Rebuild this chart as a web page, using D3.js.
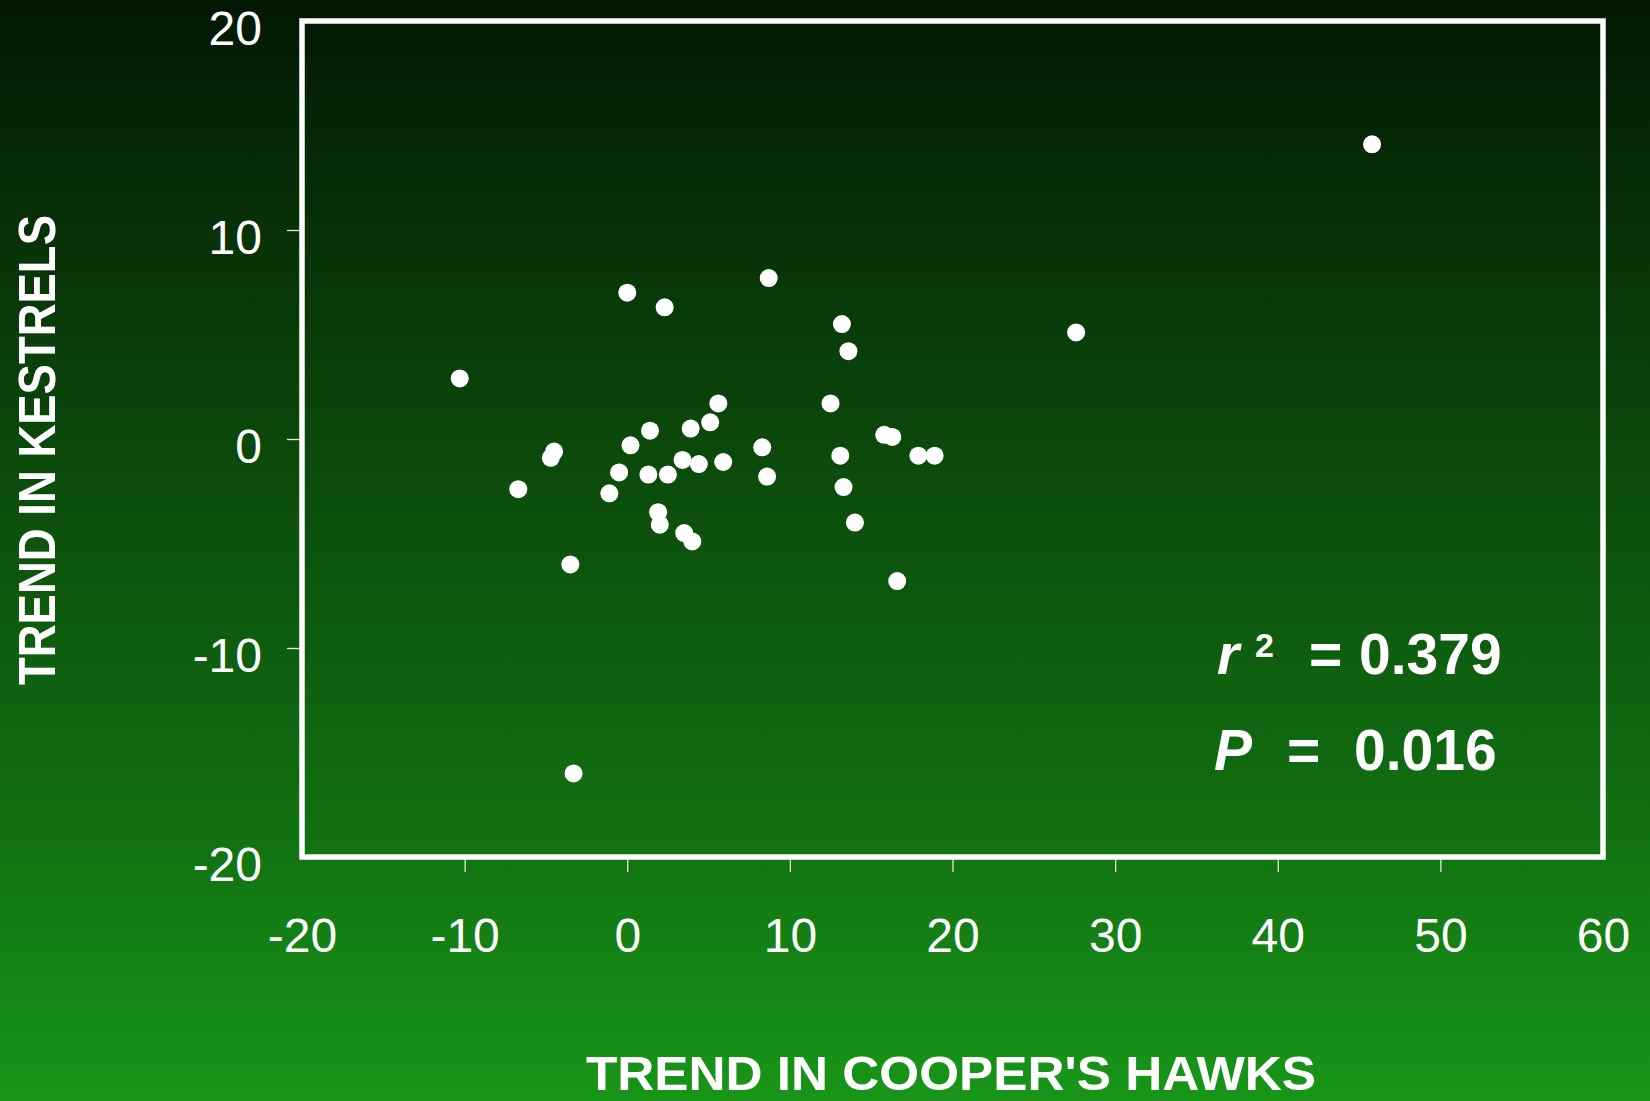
<!DOCTYPE html>
<html>
<head>
<meta charset="utf-8">
<script src="https://cdn.jsdelivr.net/npm/d3@7"></script>
<style>
  html, body { margin: 0; padding: 0; background: #0b3d0b; }
  svg { display: block; }
</style>
</head>
<body>
<div id="chart"></div>
<script>
// ---- Data ----
const hawks    = [-10.3, 0.0, 2.3, 8.7, 13.2, 13.6, 5.6, 12.5, 5.1, 3.9, 1.4, 0.2, -4.5, -4.7, 8.3, 15.8, 16.3, 17.9, 18.9, 13.1, 3.4, 4.4, 5.9, -0.5, 1.3, 2.5, 8.6, -6.7, -1.1, 13.3, 1.9, 2.0, 3.5, 4.0, 14.0, -3.5, 16.6, 45.8, 27.6, -3.3];
const kestrels = [2.9, 7.0, 6.3, 7.7, 5.5, 4.2, 1.7, 1.7, 0.8, 0.5, 0.4, -0.3, -0.6, -0.9, -0.4, 0.2, 0.1, -0.8, -0.8, -0.8, -1.0, -1.2, -1.1, -1.6, -1.7, -1.7, -1.8, -2.4, -2.6, -2.3, -3.5, -4.1, -4.5, -4.9, -4.0, -6.0, -6.8, 14.1, 5.1, -16.0];
const xTicks = [-20, -10, 0, 10, 20, 30, 40, 50, 60];
const yTicks = [-20, -10, 0, 10, 20];
const xTitle = "TREND IN COOPER'S HAWKS";
const yTitle = "TREND IN KESTRELS";
const statR = { sym: "r", sup: "2", eq: "=", val: "0.379" };
const statP = { sym: "P", eq: "=", val: "0.016" };

(function () {
const points = hawks.map((h, i) => ({ x: h, y: kestrels[i] }));

// ---- Layout ----
const W = 1650, H = 1101;
const mLeft = 302, mRight = 1603, mTop = 21, mBottom = 857;
const font = "'Liberation Sans', Arial, Helvetica, sans-serif";
const fmt = d => String(d); // plain hyphen-minus, as in the reference

const svg = d3.select("#chart").append("svg")
  .attr("width", W).attr("height", H);

const defs = svg.append("defs");
const grad = defs.append("linearGradient")
  .attr("id", "bg").attr("x1", 0).attr("y1", 0).attr("x2", 0).attr("y2", 1);
grad.append("stop").attr("offset", "0%").attr("stop-color", "rgb(3,24,4)");
grad.append("stop").attr("offset", "40%").attr("stop-color", "rgb(11,72,11)");
grad.append("stop").attr("offset", "75%").attr("stop-color", "rgb(17,112,18)");
grad.append("stop").attr("offset", "100%").attr("stop-color", "rgb(24,150,24)");

svg.append("rect").attr("width", W).attr("height", H).attr("fill", "url(#bg)");

const x = d3.scaleLinear().domain([-20, 60]).range([mLeft, mRight]);
const y = d3.scaleLinear().domain([-20, 20]).range([mBottom, mTop]);

// X axis
const gx = svg.append("g")
  .attr("transform", `translate(0,${mBottom})`)
  .call(d3.axisBottom(x).tickValues(xTicks).tickSize(15).tickFormat(fmt));
gx.select(".domain").remove();
gx.selectAll(".tick line")
  .attr("stroke", "#e6e6e6").attr("stroke-width", 1.3)
  .attr("opacity", d => (d === -20 || d === 60) ? 0 : 1);
gx.selectAll(".tick text")
  .attr("y", 95).attr("dy", null)
  .attr("fill", "#fff")
  .style("font-family", font).style("font-size", "48px");

// Y axis
const gy = svg.append("g")
  .attr("transform", `translate(${mLeft},0)`)
  .call(d3.axisLeft(y).tickValues(yTicks).tickSize(15).tickFormat(fmt));
gy.select(".domain").remove();
gy.selectAll(".tick line")
  .attr("stroke", "#e6e6e6").attr("stroke-width", 1.3)
  .attr("opacity", d => (d === -20 || d === 20) ? 0 : 1);
gy.selectAll(".tick text")
  .attr("x", -40).attr("dy", null).attr("y", 23)
  .attr("fill", "#fff")
  .style("font-family", font).style("font-size", "48px");

// Frame
svg.append("rect")
  .attr("x", x(-20)).attr("y", y(20))
  .attr("width", x(60) - x(-20)).attr("height", y(-20) - y(20))
  .attr("fill", "none").attr("stroke", "#fff").attr("stroke-width", 5.5);

// Points
svg.append("g").selectAll("circle").data(points).join("circle")
  .attr("cx", d => x(d.x)).attr("cy", d => y(d.y))
  .attr("r", 9).attr("fill", "#fff");

// Axis titles
svg.append("text")
  .attr("x", 951).attr("y", 1090)
  .attr("text-anchor", "middle")
  .attr("textLength", 730).attr("lengthAdjust", "spacingAndGlyphs")
  .attr("fill", "#fff")
  .style("font-family", font).style("font-weight", "bold").style("font-size", "48px")
  .text(xTitle);

svg.append("text")
  .attr("transform", "translate(55,450) rotate(-90)")
  .attr("text-anchor", "middle")
  .attr("textLength", 470).attr("lengthAdjust", "spacingAndGlyphs")
  .attr("fill", "#fff")
  .style("font-family", font).style("font-weight", "bold").style("font-size", "51px")
  .text(yTitle);

// Stats annotation
const st = svg.append("g").attr("fill", "#fff")
  .style("font-family", font).style("font-weight", "bold");
st.append("text").attr("x", 1217).attr("y", 674).style("font-size", "57px").style("font-style", "italic").text(statR.sym);
st.append("text").attr("x", 1255).attr("y", 657).style("font-size", "34px").text(statR.sup);
st.append("text").attr("x", 1309).attr("y", 674).style("font-size", "57px").text(statR.eq);
st.append("text").attr("x", 1359).attr("y", 674).style("font-size", "57px").text(statR.val);
st.append("text").attr("x", 1214).attr("y", 770).style("font-size", "57px").style("font-style", "italic").text(statP.sym);
st.append("text").attr("x", 1287).attr("y", 770).style("font-size", "57px").text(statP.eq);
st.append("text").attr("x", 1354).attr("y", 770).style("font-size", "57px").text(statP.val);
})();
</script>
</body>
</html>
